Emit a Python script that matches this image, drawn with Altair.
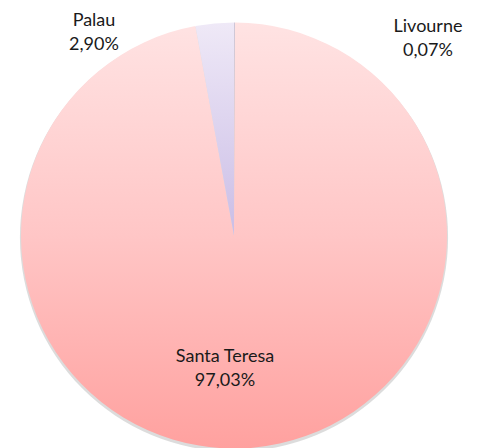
import altair as alt
import pandas as pd

categories = ["Livourne", "Santa Teresa", "Palau"]
shares = [0.07, 97.03, 2.90]
share_labels = ["0,07%", "97,03%", "2,90%"]

df = pd.DataFrame({"cat": categories, "share": shares, "lab": share_labels, "order": [0, 1, 2]})

CX, CY, R = 226, 227.5, 213
fills = {
    "Livourne": alt.Gradient(gradient="linear", x1=0, x2=0, y1=0, y2=1,
                             stops=[alt.GradientStop(color="#C9C3D6", offset=0),
                                    alt.GradientStop(color="#A9A3BA", offset=1)]),
    "Santa Teresa": alt.Gradient(gradient="linear", x1=0, x2=0, y1=0, y2=1,
                                 stops=[alt.GradientStop(color="#FFE3E3", offset=0),
                                        alt.GradientStop(color="#FFC6C6", offset=0.5),
                                        alt.GradientStop(color="#FFA19F", offset=1)]),
    "Palau": alt.Gradient(gradient="linear", x1=0, x2=0, y1=0, y2=1,
                          stops=[alt.GradientStop(color="#EFE9F7", offset=0),
                                 alt.GradientStop(color="#CABDE6", offset=1)]),
}

base = alt.Chart(df).transform_window(
    end="sum(share)", sort=[alt.SortField("order")]
).transform_calculate(start="datum.end - datum.share")

theta_scale = alt.Scale(domain=[0, 100], range=[0, 6.283185307])

shadow = base.transform_filter("datum.order == 1").mark_arc(
    x=CX, y=CY + 2, outerRadius=R + 1, fill="#9a9a9a", opacity=0.35
).encode(theta=alt.value(0), theta2=alt.value(6.2832))

layers = [shadow]
for c in categories:
    layers.append(
        base.transform_filter(alt.datum.cat == c).mark_arc(
            x=CX, y=CY, outerRadius=R, fill=fills[c], stroke=None
        ).encode(
            theta=alt.Theta("start:Q", scale=theta_scale),
            theta2="end:Q",
        )
    )

label_pos = {"Palau": (86, 18), "Livourne": (420, 24), "Santa Teresa": (217, 354)}
for c, (lx, ly) in label_pos.items():
    layers.append(
        base.transform_filter(alt.datum.cat == c)
        .transform_calculate(txt="[datum.cat, datum.lab]")
        .mark_text(font="Lato", fontSize=18, color="#1a1a1a", align="center",
                   baseline="alphabetic", lineHeight=24)
        .encode(x=alt.value(lx), y=alt.value(ly), text="txt:N")
    )

chart = alt.layer(*layers).properties(
    width=465, height=440, padding=0, autosize="none"
).configure_view(stroke=None)

chart.save("out.html", embed_options={"renderer": "svg", "actions": False})
